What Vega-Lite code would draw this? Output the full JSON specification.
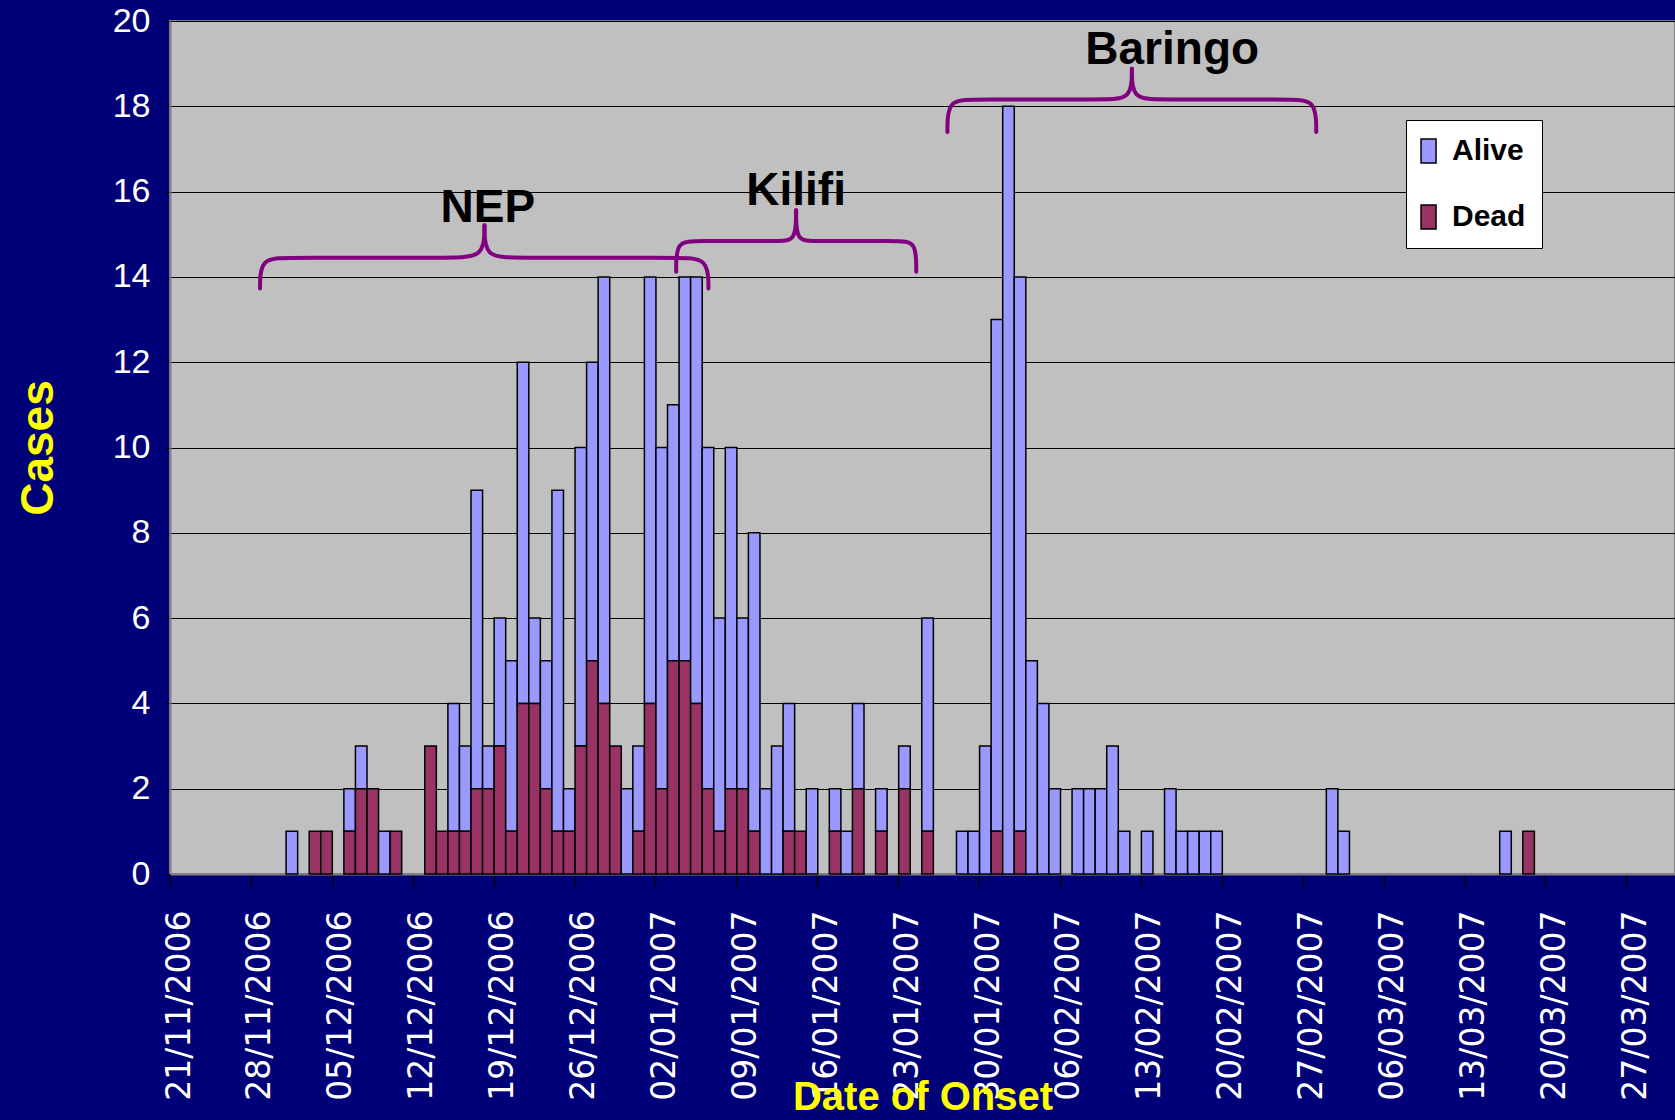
{
  "$schema": "https://vega.github.io/schema/vega-lite/v6.json",
  "width": 1505,
  "height": 853,
  "autosize": "none",
  "padding": {"left": 170, "top": 21, "right": 0, "bottom": 246},
  "background": "#000078",
  "config": {
    "view": {"fill": "#C0C0C0", "stroke": "#808080", "strokeWidth": 2},
    "axis": {"domainColor": "#808080", "domainWidth": 2}
  },
  "datasets": {
    "cases": [
      {"date": "2006-12-01", "status": "Alive", "cases": 1},
      {"date": "2006-12-03", "status": "Dead", "cases": 1},
      {"date": "2006-12-04", "status": "Dead", "cases": 1},
      {"date": "2006-12-06", "status": "Alive", "cases": 1},
      {"date": "2006-12-06", "status": "Dead", "cases": 1},
      {"date": "2006-12-07", "status": "Alive", "cases": 1},
      {"date": "2006-12-07", "status": "Dead", "cases": 2},
      {"date": "2006-12-08", "status": "Dead", "cases": 2},
      {"date": "2006-12-09", "status": "Alive", "cases": 1},
      {"date": "2006-12-10", "status": "Dead", "cases": 1},
      {"date": "2006-12-13", "status": "Dead", "cases": 3},
      {"date": "2006-12-14", "status": "Dead", "cases": 1},
      {"date": "2006-12-15", "status": "Alive", "cases": 3},
      {"date": "2006-12-15", "status": "Dead", "cases": 1},
      {"date": "2006-12-16", "status": "Alive", "cases": 2},
      {"date": "2006-12-16", "status": "Dead", "cases": 1},
      {"date": "2006-12-17", "status": "Alive", "cases": 7},
      {"date": "2006-12-17", "status": "Dead", "cases": 2},
      {"date": "2006-12-18", "status": "Alive", "cases": 1},
      {"date": "2006-12-18", "status": "Dead", "cases": 2},
      {"date": "2006-12-19", "status": "Alive", "cases": 3},
      {"date": "2006-12-19", "status": "Dead", "cases": 3},
      {"date": "2006-12-20", "status": "Alive", "cases": 4},
      {"date": "2006-12-20", "status": "Dead", "cases": 1},
      {"date": "2006-12-21", "status": "Alive", "cases": 8},
      {"date": "2006-12-21", "status": "Dead", "cases": 4},
      {"date": "2006-12-22", "status": "Alive", "cases": 2},
      {"date": "2006-12-22", "status": "Dead", "cases": 4},
      {"date": "2006-12-23", "status": "Alive", "cases": 3},
      {"date": "2006-12-23", "status": "Dead", "cases": 2},
      {"date": "2006-12-24", "status": "Alive", "cases": 8},
      {"date": "2006-12-24", "status": "Dead", "cases": 1},
      {"date": "2006-12-25", "status": "Alive", "cases": 1},
      {"date": "2006-12-25", "status": "Dead", "cases": 1},
      {"date": "2006-12-26", "status": "Alive", "cases": 7},
      {"date": "2006-12-26", "status": "Dead", "cases": 3},
      {"date": "2006-12-27", "status": "Alive", "cases": 7},
      {"date": "2006-12-27", "status": "Dead", "cases": 5},
      {"date": "2006-12-28", "status": "Alive", "cases": 10},
      {"date": "2006-12-28", "status": "Dead", "cases": 4},
      {"date": "2006-12-29", "status": "Dead", "cases": 3},
      {"date": "2006-12-30", "status": "Alive", "cases": 2},
      {"date": "2006-12-31", "status": "Alive", "cases": 2},
      {"date": "2006-12-31", "status": "Dead", "cases": 1},
      {"date": "2007-01-01", "status": "Alive", "cases": 10},
      {"date": "2007-01-01", "status": "Dead", "cases": 4},
      {"date": "2007-01-02", "status": "Alive", "cases": 8},
      {"date": "2007-01-02", "status": "Dead", "cases": 2},
      {"date": "2007-01-03", "status": "Alive", "cases": 6},
      {"date": "2007-01-03", "status": "Dead", "cases": 5},
      {"date": "2007-01-04", "status": "Alive", "cases": 9},
      {"date": "2007-01-04", "status": "Dead", "cases": 5},
      {"date": "2007-01-05", "status": "Alive", "cases": 10},
      {"date": "2007-01-05", "status": "Dead", "cases": 4},
      {"date": "2007-01-06", "status": "Alive", "cases": 8},
      {"date": "2007-01-06", "status": "Dead", "cases": 2},
      {"date": "2007-01-07", "status": "Alive", "cases": 5},
      {"date": "2007-01-07", "status": "Dead", "cases": 1},
      {"date": "2007-01-08", "status": "Alive", "cases": 8},
      {"date": "2007-01-08", "status": "Dead", "cases": 2},
      {"date": "2007-01-09", "status": "Alive", "cases": 4},
      {"date": "2007-01-09", "status": "Dead", "cases": 2},
      {"date": "2007-01-10", "status": "Alive", "cases": 7},
      {"date": "2007-01-10", "status": "Dead", "cases": 1},
      {"date": "2007-01-11", "status": "Alive", "cases": 2},
      {"date": "2007-01-12", "status": "Alive", "cases": 3},
      {"date": "2007-01-13", "status": "Alive", "cases": 3},
      {"date": "2007-01-13", "status": "Dead", "cases": 1},
      {"date": "2007-01-14", "status": "Dead", "cases": 1},
      {"date": "2007-01-15", "status": "Alive", "cases": 2},
      {"date": "2007-01-17", "status": "Alive", "cases": 1},
      {"date": "2007-01-17", "status": "Dead", "cases": 1},
      {"date": "2007-01-18", "status": "Alive", "cases": 1},
      {"date": "2007-01-19", "status": "Alive", "cases": 2},
      {"date": "2007-01-19", "status": "Dead", "cases": 2},
      {"date": "2007-01-21", "status": "Alive", "cases": 1},
      {"date": "2007-01-21", "status": "Dead", "cases": 1},
      {"date": "2007-01-23", "status": "Alive", "cases": 1},
      {"date": "2007-01-23", "status": "Dead", "cases": 2},
      {"date": "2007-01-25", "status": "Alive", "cases": 5},
      {"date": "2007-01-25", "status": "Dead", "cases": 1},
      {"date": "2007-01-28", "status": "Alive", "cases": 1},
      {"date": "2007-01-29", "status": "Alive", "cases": 1},
      {"date": "2007-01-30", "status": "Alive", "cases": 3},
      {"date": "2007-01-31", "status": "Alive", "cases": 12},
      {"date": "2007-01-31", "status": "Dead", "cases": 1},
      {"date": "2007-02-01", "status": "Alive", "cases": 18},
      {"date": "2007-02-02", "status": "Alive", "cases": 13},
      {"date": "2007-02-02", "status": "Dead", "cases": 1},
      {"date": "2007-02-03", "status": "Alive", "cases": 5},
      {"date": "2007-02-04", "status": "Alive", "cases": 4},
      {"date": "2007-02-05", "status": "Alive", "cases": 2},
      {"date": "2007-02-07", "status": "Alive", "cases": 2},
      {"date": "2007-02-08", "status": "Alive", "cases": 2},
      {"date": "2007-02-09", "status": "Alive", "cases": 2},
      {"date": "2007-02-10", "status": "Alive", "cases": 3},
      {"date": "2007-02-11", "status": "Alive", "cases": 1},
      {"date": "2007-02-13", "status": "Alive", "cases": 1},
      {"date": "2007-02-15", "status": "Alive", "cases": 2},
      {"date": "2007-02-16", "status": "Alive", "cases": 1},
      {"date": "2007-02-17", "status": "Alive", "cases": 1},
      {"date": "2007-02-18", "status": "Alive", "cases": 1},
      {"date": "2007-02-19", "status": "Alive", "cases": 1},
      {"date": "2007-03-01", "status": "Alive", "cases": 2},
      {"date": "2007-03-02", "status": "Alive", "cases": 1},
      {"date": "2007-03-16", "status": "Alive", "cases": 1},
      {"date": "2007-03-18", "status": "Dead", "cases": 1}
    ],
    "braces": [
      {"seg": "NEP-L", "i": 0, "t": "2006-11-28T19:00:00Z", "v": 13.73},
      {"seg": "NEP-L", "i": 1, "t": "2006-11-28T19:00:00Z", "v": 14.45},
      {"seg": "NEP-L", "i": 2, "t": "2006-12-01T09:00:00Z", "v": 14.45},
      {"seg": "NEP-L", "i": 3, "t": "2006-12-15T05:30:00Z", "v": 14.45},
      {"seg": "NEP-L", "i": 4, "t": "2006-12-18T05:00:00Z", "v": 14.45},
      {"seg": "NEP-L", "i": 5, "t": "2006-12-18T05:00:00Z", "v": 15.21},
      {"seg": "NEP-R", "i": 0, "t": "2006-12-18T05:00:00Z", "v": 15.21},
      {"seg": "NEP-R", "i": 1, "t": "2006-12-18T05:00:00Z", "v": 14.45},
      {"seg": "NEP-R", "i": 2, "t": "2006-12-21T00:00:00Z", "v": 14.45},
      {"seg": "NEP-R", "i": 3, "t": "2007-01-03T20:30:00Z", "v": 14.45},
      {"seg": "NEP-R", "i": 4, "t": "2007-01-06T14:00:00Z", "v": 14.45},
      {"seg": "NEP-R", "i": 5, "t": "2007-01-06T14:00:00Z", "v": 13.73},
      {"seg": "Kilifi-L", "i": 0, "t": "2007-01-03T19:00:00Z", "v": 14.12},
      {"seg": "Kilifi-L", "i": 1, "t": "2007-01-03T19:00:00Z", "v": 14.84},
      {"seg": "Kilifi-L", "i": 2, "t": "2007-01-05T14:00:00Z", "v": 14.84},
      {"seg": "Kilifi-L", "i": 3, "t": "2007-01-12T15:20:00Z", "v": 14.84},
      {"seg": "Kilifi-L", "i": 4, "t": "2007-01-14T04:00:00Z", "v": 14.84},
      {"seg": "Kilifi-L", "i": 5, "t": "2007-01-14T04:00:00Z", "v": 15.56},
      {"seg": "Kilifi-R", "i": 0, "t": "2007-01-14T04:00:00Z", "v": 15.56},
      {"seg": "Kilifi-R", "i": 1, "t": "2007-01-14T04:00:00Z", "v": 14.84},
      {"seg": "Kilifi-R", "i": 2, "t": "2007-01-15T15:20:00Z", "v": 14.84},
      {"seg": "Kilifi-R", "i": 3, "t": "2007-01-23T00:00:00Z", "v": 14.84},
      {"seg": "Kilifi-R", "i": 4, "t": "2007-01-24T13:30:00Z", "v": 14.84},
      {"seg": "Kilifi-R", "i": 5, "t": "2007-01-24T13:30:00Z", "v": 14.12},
      {"seg": "Baringo-L", "i": 0, "t": "2007-01-27T06:15:00Z", "v": 17.4},
      {"seg": "Baringo-L", "i": 1, "t": "2007-01-27T06:15:00Z", "v": 18.16},
      {"seg": "Baringo-L", "i": 2, "t": "2007-01-29T12:15:00Z", "v": 18.16},
      {"seg": "Baringo-L", "i": 3, "t": "2007-02-09T18:15:00Z", "v": 18.16},
      {"seg": "Baringo-L", "i": 4, "t": "2007-02-12T05:15:00Z", "v": 18.16},
      {"seg": "Baringo-L", "i": 5, "t": "2007-02-12T05:15:00Z", "v": 18.88},
      {"seg": "Baringo-R", "i": 0, "t": "2007-02-12T05:15:00Z", "v": 18.88},
      {"seg": "Baringo-R", "i": 1, "t": "2007-02-12T05:15:00Z", "v": 18.16},
      {"seg": "Baringo-R", "i": 2, "t": "2007-02-14T16:00:00Z", "v": 18.16},
      {"seg": "Baringo-R", "i": 3, "t": "2007-02-25T22:00:00Z", "v": 18.16},
      {"seg": "Baringo-R", "i": 4, "t": "2007-02-28T04:00:00Z", "v": 18.16},
      {"seg": "Baringo-R", "i": 5, "t": "2007-02-28T04:00:00Z", "v": 17.4}
    ],
    "labels": [
      {"label": "NEP", "t": "2006-12-18T12:00:00Z", "v": 15.29},
      {"label": "Kilifi", "t": "2007-01-14T04:00:00Z", "v": 15.69},
      {"label": "Baringo", "t": "2007-02-15T17:00:00Z", "v": 19.0}
    ]
  },
  "layer": [
    {
      "data": {"name": "cases"},
      "mark": {"type": "bar", "stroke": "#000000", "strokeWidth": 1.5, "binSpacing": 0},
      "encoding": {
        "x": {
          "field": "date",
          "type": "temporal",
          "timeUnit": "utcyearmonthdate",
          "title": "Date of Onset",
          "scale": {
            "type": "utc",
            "domain": [
              {"year": 2006, "month": 11, "date": 21, "utc": true},
              {"year": 2007, "month": 3, "date": 31, "hours": 5, "utc": true}
            ]
          },
          "axis": {
            "values": [
              {"year": 2006, "month": 11, "date": 21, "utc": true},
              {"year": 2006, "month": 11, "date": 28, "utc": true},
              {"year": 2006, "month": 12, "date": 5, "utc": true},
              {"year": 2006, "month": 12, "date": 12, "utc": true},
              {"year": 2006, "month": 12, "date": 19, "utc": true},
              {"year": 2006, "month": 12, "date": 26, "utc": true},
              {"year": 2007, "month": 1, "date": 2, "utc": true},
              {"year": 2007, "month": 1, "date": 9, "utc": true},
              {"year": 2007, "month": 1, "date": 16, "utc": true},
              {"year": 2007, "month": 1, "date": 23, "utc": true},
              {"year": 2007, "month": 1, "date": 30, "utc": true},
              {"year": 2007, "month": 2, "date": 6, "utc": true},
              {"year": 2007, "month": 2, "date": 13, "utc": true},
              {"year": 2007, "month": 2, "date": 20, "utc": true},
              {"year": 2007, "month": 2, "date": 27, "utc": true},
              {"year": 2007, "month": 3, "date": 6, "utc": true},
              {"year": 2007, "month": 3, "date": 13, "utc": true},
              {"year": 2007, "month": 3, "date": 20, "utc": true},
              {"year": 2007, "month": 3, "date": 27, "utc": true}
            ],
            "format": "%d/%m/%Y",
            "labelAngle": -90,
            "labelAlign": "right",
            "labelBaseline": "middle",
            "labelOffset": 9,
            "labelFont": "DejaVu Sans",
            "labelFontSize": 33,
            "labelColor": "#FFFFFF",
            "labelPadding": 23,
            "labelLimit": 0,
            "labelOverlap": false,
            "labelFlush": false,
            "labelBound": false,
            "tickSize": 13,
            "tickColor": "#000000",
            "tickWidth": 1.5,
            "grid": false,
            "titleFont": "Liberation Sans",
            "titleFontWeight": "bold",
            "titleFontSize": 40,
            "titleColor": "#FFFF00",
            "titlePadding": 3
          }
        },
        "y": {
          "field": "cases",
          "type": "quantitative",
          "stack": "zero",
          "title": "Cases",
          "scale": {"domain": [0, 20], "nice": false},
          "axis": {
            "values": [0, 2, 4, 6, 8, 10, 12, 14, 16, 18, 20],
            "labelFont": "Liberation Sans",
            "labelFontSize": 34,
            "labelColor": "#FFFFFF",
            "labelPadding": 15,
            "tickSize": 5,
            "tickColor": "#000000",
            "grid": true,
            "gridColor": "#000000",
            "gridWidth": 1,
            "titleFont": "Liberation Sans",
            "titleFontWeight": "bold",
            "titleFontSize": 46,
            "titleColor": "#FFFF00",
            "titlePadding": 50
          }
        },
        "color": {
          "field": "status",
          "type": "nominal",
          "scale": {"domain": ["Alive", "Dead"], "range": ["#9999FF", "#993366"]},
          "legend": {
            "orient": "none",
            "legendX": 1236,
            "legendY": 99,
            "title": null,
            "fillColor": "#FFFFFF",
            "strokeColor": "#000000",
            "padding": 16,
            "rowPadding": 36,
            "labelFont": "Liberation Sans",
            "labelFontWeight": "bold",
            "labelFontSize": 30,
            "labelColor": "#000000",
            "labelOffset": 0,
            "symbolType": "M-1.33,-1H-0.08V1H-1.33Z",
            "symbolSize": 576,
            "symbolStrokeColor": "#000000",
            "symbolStrokeWidth": 1.5,
            "symbolOpacity": 1
          }
        },
        "order": {"field": "status", "sort": "descending"}
      }
    },
    {
      "data": {"name": "braces"},
      "mark": {"type": "line", "interpolate": "basis", "color": "#800080", "strokeWidth": 4, "strokeCap": "round"},
      "encoding": {
        "x": {"field": "t", "type": "temporal", "title": "Date of Onset"},
        "y": {"field": "v", "type": "quantitative", "title": "Cases"},
        "detail": {"field": "seg"},
        "order": {"field": "i"}
      }
    },
    {
      "data": {"name": "labels"},
      "mark": {"type": "text", "font": "Liberation Sans", "fontWeight": "bold", "fontSize": 46, "align": "center", "baseline": "alphabetic", "color": "#000000"},
      "encoding": {
        "x": {"field": "t", "type": "temporal", "title": "Date of Onset"},
        "y": {"field": "v", "type": "quantitative", "title": "Cases"},
        "text": {"field": "label"}
      }
    }
  ]
}
